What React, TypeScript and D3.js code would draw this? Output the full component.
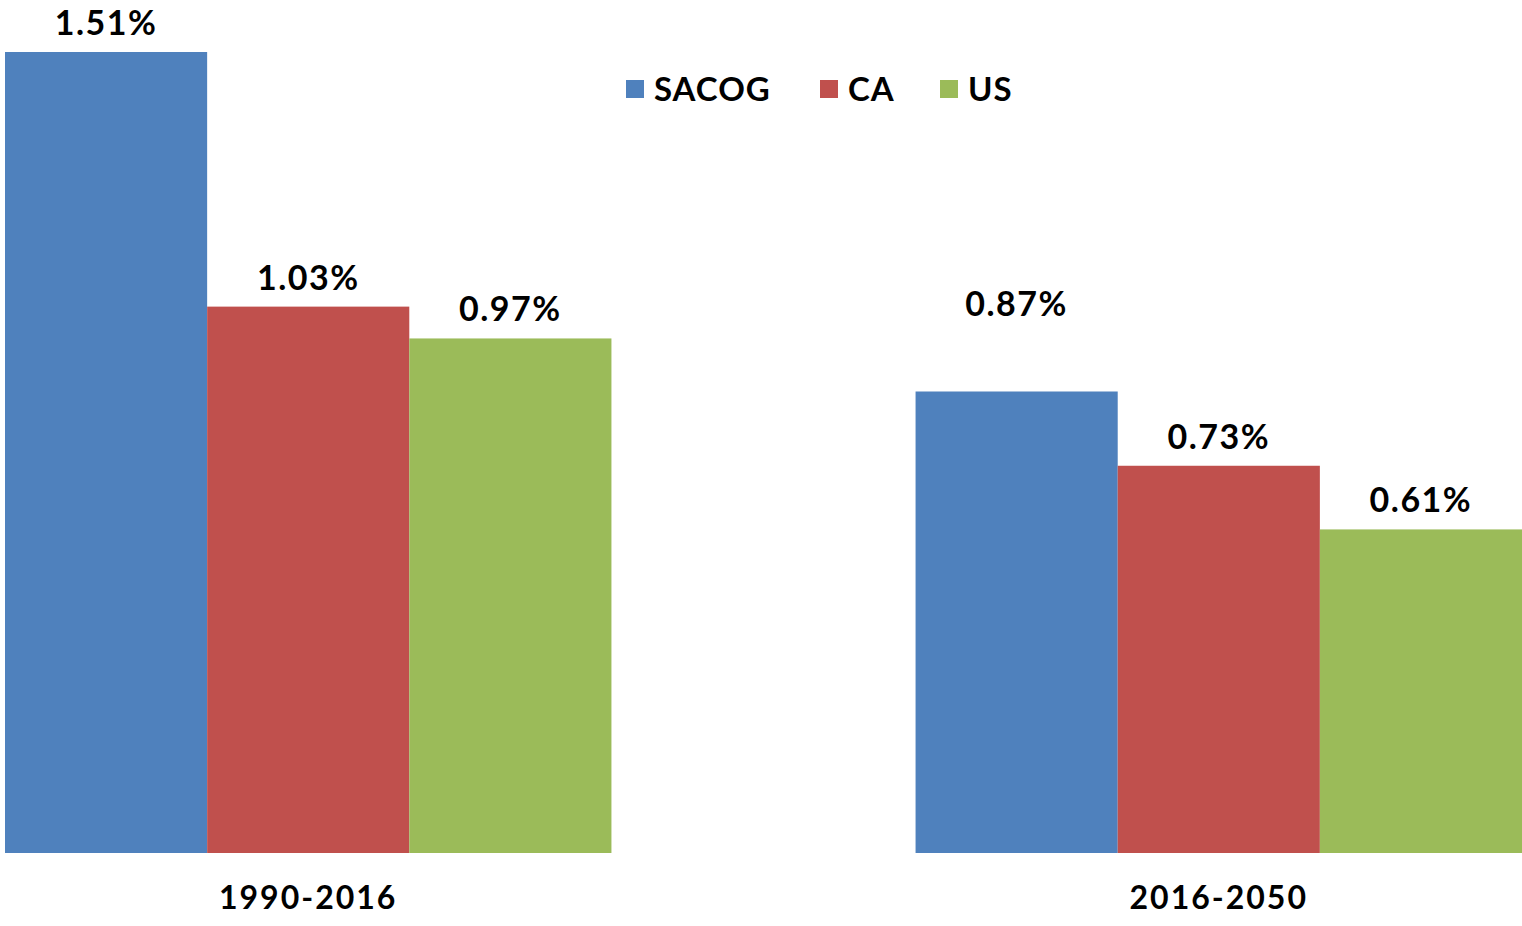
import React from "react";
import * as d3 from "d3";

const categories = ["1990-2016", "2016-2050"];
const seriesNames = ["SACOG", "CA", "US"];
const sacog = [1.51, 0.87];
const ca = [1.03, 0.73];
const us = [0.97, 0.61];
const colors = ["#4F81BD", "#C0504D", "#9BBB59"];

const W = 1522;
const H = 926;
const FONT = "Lato, 'Open Sans', sans-serif";

export default function App() {
  const values = [sacog, ca, us];
  const baseline = 853;
  const x0 = d3.scaleBand<string>().domain(categories).range([5, 1522]).paddingInner(0.334).paddingOuter(0);
  const x1 = d3.scaleBand<string>().domain(seriesNames).range([0, x0.bandwidth()]).padding(0);
  const y = d3.scaleLinear().domain([0, 1.51]).range([baseline, 52]);

  const legendX = [626, 820, 940];

  return (
    <svg width={W} height={H} style={{ position: "absolute", left: 0, top: 0, background: "#fff" }}>
      {categories.map((c, ci) => (
        <g key={c}>
          {seriesNames.map((s, si) => {
            const v = values[si][ci];
            const bx = (x0(c) as number) + (x1(s) as number);
            const by = y(v);
            const special = ci === 1 && si === 0;
            return (
              <g key={s}>
                <rect x={bx} y={by} width={x1.bandwidth()} height={baseline - by} fill={colors[si]} />
                <text
                  x={bx + x1.bandwidth() / 2}
                  y={by - (special ? 75 : 17)}
                  textAnchor="middle"
                  fontFamily={FONT}
                  fontWeight={700}
                  fontSize={34}
                  letterSpacing={1.5}
                  fill="#000"
                >
                  {v.toFixed(2) + "%"}
                </text>
              </g>
            );
          })}
          <text
            x={(x0(c) as number) + x0.bandwidth() / 2}
            y={909}
            textAnchor="middle"
            fontFamily={FONT}
            fontWeight={700}
            fontSize={32}
            letterSpacing={2}
            fill="#000"
          >
            {c}
          </text>
        </g>
      ))}
      {seriesNames.map((s, si) => (
        <g key={s}>
          <rect x={legendX[si]} y={80} width={18} height={18} fill={colors[si]} />
          <text x={legendX[si] + 28} y={101} fontFamily={FONT} fontWeight={700} fontSize={33} letterSpacing={1} fill="#000">
            {s}
          </text>
        </g>
      ))}
    </svg>
  );
}
